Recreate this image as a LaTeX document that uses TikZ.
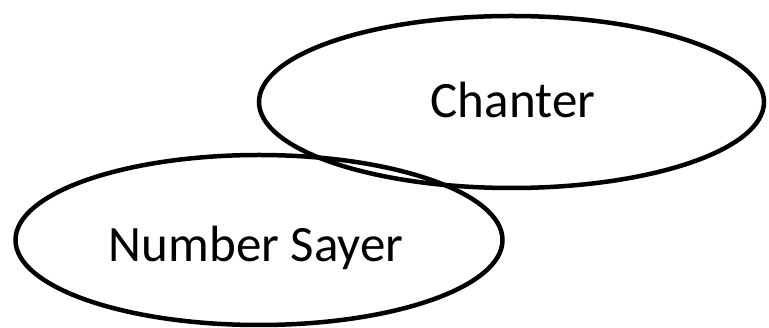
\documentclass[tikz,border=0pt]{standalone}
\usepackage{fontspec}
\setmainfont{Carlito}
\begin{document}
\begin{tikzpicture}[x=1pt,y=-1pt,
  oval/.style={draw=black,line width=4.5pt},
  lbl/.style={font=\fontsize{51}{60}\selectfont,anchor=base,inner sep=0pt}]
\useasboundingbox (0,0) rectangle (769,328);
\draw[oval] (511.5,102) ellipse [x radius=252.5, y radius=86];
\draw[oval] (259,240) ellipse [x radius=243.5, y radius=85];
\node[lbl] (chanter) at (513,118) {Chanter};
\node[lbl] (sayer) at (256,262) {Number Sayer};
\end{tikzpicture}
\end{document}
